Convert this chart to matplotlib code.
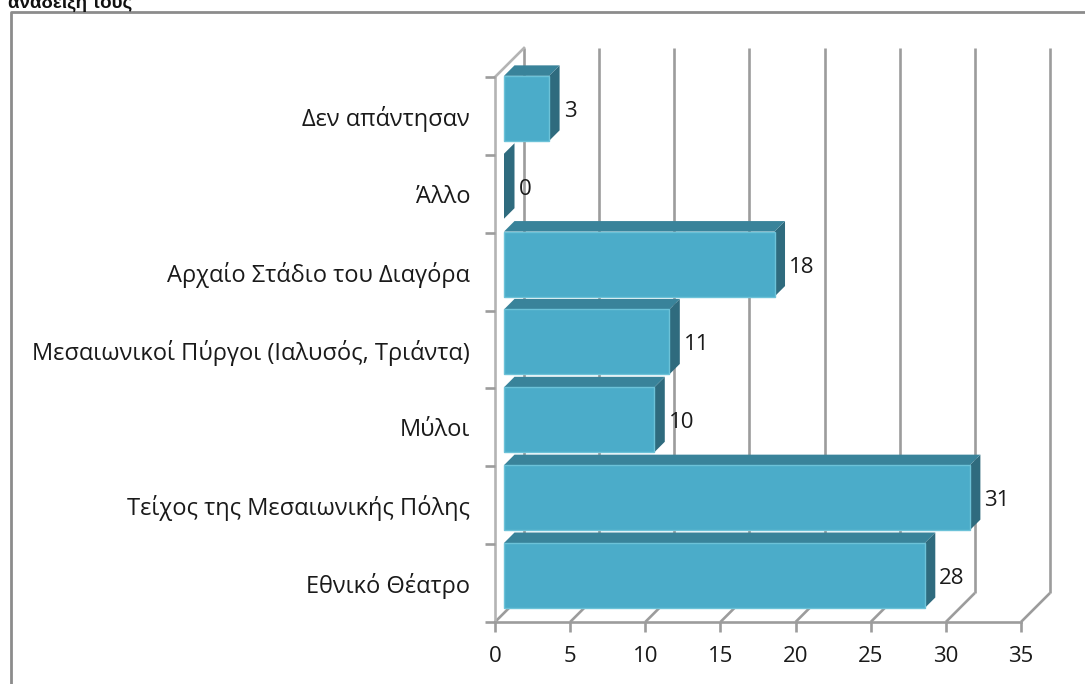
import matplotlib
matplotlib.use("Agg")
import matplotlib.pyplot as plt
from matplotlib.patches import Polygon, Rectangle

categories = ["Εθνικό Θέατρο", "Τείχος της Μεσαιωνικής Πόλης", "Μύλοι",
              "Μεσαιωνικοί Πύργοι (Ιαλυσός, Τριάντα)", "Αρχαίο Στάδιο του Διαγόρα",
              "Άλλο", "Δεν απάντησαν"]
values = [28, 31, 10, 11, 18, 0, 3]
x_ticks = [0, 5, 10, 15, 20, 25, 30, 35]
title_tail = "ανάδειξη τους"

W, H = 1085, 684
plt.rcParams['font.family'] = ['Open Sans', 'DejaVu Sans']
fig = plt.figure(figsize=(W / 100, H / 100), dpi=100)

# figure-wide outer frame and clipped heading
bg = fig.add_axes([0, 0, 1, 1])
bg.set_xlim(0, W); bg.set_ylim(H, 0); bg.axis('off')
bg.plot([10.5, 10.5, W + 5], [H + 5, 12, 12], color='#8c8c8c', lw=2, clip_on=True)
bg.text(8, 8, title_tail, fontsize=13.5, fontweight='bold', family=['Liberation Sans'],
        va='baseline', ha='left', color='#111111')

# chart axes in data units
L, R, B, T = 495, 1021, 622, 77
ax = fig.add_axes([L / W, 1 - B / H, (R - L) / W, (B - T) / H])
ax.set_xlim(0, 35); ax.set_ylim(0, len(categories))
ax.patch.set_alpha(0)
for s in ax.spines.values():
    s.set_visible(False)
ux = (R - L) / 35; uy = (B - T) / len(categories)
DX = 29 / ux; DY = 29 / uy
grid = '#9c9c9c'
n = len(categories)
lw = 1.9
# back wall grid and floor
for t in x_ticks:
    ax.plot([t, t + DX], [0, DY], color=grid, lw=lw, clip_on=False, zorder=1,
            solid_capstyle='butt')
    ax.plot([t + DX, t + DX], [DY, n + DY], color=grid, lw=lw,
            clip_on=False, zorder=1, solid_capstyle='butt')
# left wall
ax.plot([0, 0], [0, n], color='#b4b4b4', lw=lw, clip_on=False, zorder=1)
ax.plot([0, DX], [n, n + DY], color='#b4b4b4', lw=lw, clip_on=False, zorder=1)
ax.plot([0, 35], [0, 0], color=grid, lw=lw, clip_on=False, zorder=1)

ax.set_xticks(x_ticks)
ax.set_yticks(range(n + 1))
ax.set_yticklabels([])
ax.tick_params(axis='both', length=7, width=lw, color=grid)
ax.tick_params(axis='x', labelsize=16, pad=10, labelcolor='#1a1a1a')
ax.tick_params(axis='y', left=True)

# bars
face, top, side, edge = '#4bacc9', '#39839a', '#2f6b7e', '#6cc2d8'
x0 = 9 / ux
bar_h = 65 / uy
d = 10.5 / ux; e = 10.5 / uy
for i, (c, v) in enumerate(zip(categories, values)):
    y0 = i + 14 / uy
    y1 = y0 + bar_h
    x1 = x0 + v
    z = 10 + (n - i)
    ax.add_patch(Polygon([(x1, y0), (x1 + d, y0 + e), (x1 + d, y1 + e), (x1, y1)],
                         fc=side, ec='none', zorder=z, clip_on=False))
    if v > 0:
        ax.add_patch(Polygon([(x0, y1), (x1, y1), (x1 + d, y1 + e), (x0 + d, y1 + e)],
                             fc=top, ec='none', zorder=z, clip_on=False))
        ax.add_patch(Rectangle((x0, y0), v, bar_h, fc=face, ec=edge, lw=1, zorder=z,
                               clip_on=False))
    ax.text(x1 + d + 4 / ux, y0 + bar_h / 2 - 3 / uy, str(v), fontsize=16, color='#1a1a1a',
            va='center', ha='left', zorder=30, clip_on=False)
    ax.text(-25 / ux, i + 0.5 - 3 / uy, c, fontsize=17.05, color='#1a1a1a', va='center', ha='right',
            clip_on=False)

fig.savefig('out.png', dpi=100)
